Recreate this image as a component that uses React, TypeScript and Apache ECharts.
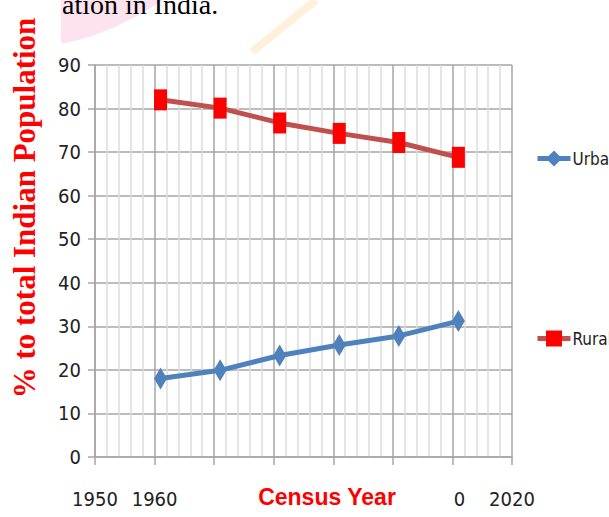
import React, { useEffect, useRef } from 'react';
import * as echarts from 'echarts';

const years = [1961, 1971, 1981, 1991, 2001, 2011];
const urban = [18.0, 19.9, 23.3, 25.7, 27.8, 31.2];
const rural = [82.0, 80.1, 76.7, 74.3, 72.2, 68.8];
const xTickLabels: Record<number, string> = { 1950: '1950', 1960: '1960', 2010: '{r|0}', 2020: '2020' };
const seriesNames = ['Urban', 'Rural'];
const yTitle = '% to total Indian Population';
const xTitle = 'Census Year';
const captionFragment = 'ation in India.';

const NARROW = '"Liberation Sans Narrow", "DejaVu Sans Condensed", "Liberation Sans", sans-serif';

export default function App() {
  const ref = useRef<HTMLDivElement>(null);
  useEffect(() => {
    document.body.style.margin = '0';
    if (!ref.current) return;
    const chart = echarts.init(ref.current, undefined, { renderer: 'svg' });
    const grey = '#a6a6a6';
    const legendCommon = {
      orient: 'vertical',
      left: 530,
      itemWidth: 33,
      itemHeight: 20,
      itemGap: 0,
      lineStyle: { width: 5 },
      textStyle: { fontSize: 17, fontFamily: NARROW, color: '#222', padding: [0, 0, 0, -3] },
    };
    chart.setOption({
      animation: false,
      backgroundColor: '#ffffff',
      grid: { left: 95, right: 97, top: 65, bottom: 60 },
      xAxis: {
        type: 'value',
        min: 1950,
        max: 2020,
        interval: 10,
        axisLine: { show: true, lineStyle: { color: grey, width: 1.5 } },
        axisTick: { show: true, length: 8, lineStyle: { color: grey, width: 1.5 } },
        axisLabel: {
          margin: 32,
          fontSize: 20,
          fontFamily: NARROW,
          color: '#222',
          formatter: (v: number) => xTickLabels[v] ?? '',
          rich: { r: { fontSize: 20, fontFamily: NARROW, color: '#222', padding: [0, 0, 0, 14] } },
        },
        splitLine: { show: true, lineStyle: { color: grey, width: 1.5 } },
        minorTick: { show: false, splitNumber: 5 },
        minorSplitLine: { show: true, lineStyle: { color: '#dcdcdc', width: 1.5 } },
      },
      yAxis: {
        type: 'value',
        min: 0,
        max: 90,
        interval: 10,
        axisLine: { show: true, lineStyle: { color: grey, width: 1.5 } },
        axisTick: { show: true, length: 7, lineStyle: { color: grey, width: 1.5 } },
        axisLabel: { margin: 14, fontSize: 20, fontFamily: NARROW, color: '#222' },
        splitLine: { show: true, lineStyle: { color: grey, width: 1.5 } },
      },
      legend: [
        { ...legendCommon, data: [seriesNames[0]], top: 145 },
        { ...legendCommon, data: [seriesNames[1]], top: 325 },
      ],
      series: [
        {
          name: seriesNames[0],
          type: 'line',
          data: years.map((y, i) => [y, urban[i]]),
          symbol: 'diamond',
          symbolSize: [13, 22],
          itemStyle: { color: '#4F81BD' },
          lineStyle: { color: '#4F81BD', width: 5 },
        },
        {
          name: seriesNames[1],
          type: 'line',
          data: years.map((y, i) => [y, rural[i]]),
          symbol: 'rect',
          symbolSize: [13, 21],
          itemStyle: { color: '#FF0000' },
          lineStyle: { color: '#C0504D', width: 5 },
        },
      ],
      graphic: [
        {
          type: 'polygon',
          z: -10,
          shape: {
            points: [
              [61, 0], [61, 44], [75, 41], [95, 35], [115, 27], [135, 17], [152, 7], [163, 0],
            ],
          },
          style: { fill: '#fde3ef' },
        },
        {
          type: 'line',
          z: -10,
          shape: { x1: 316, y1: 0, x2: 252, y2: 52 },
          style: { stroke: '#fef1dc', lineWidth: 8 },
        },
        {
          type: 'text',
          x: 62,
          y: 4,
          style: {
            text: captionFragment,
            font: '28px "Liberation Serif", "Times New Roman", serif',
            fill: '#000',
            verticalAlign: 'middle',
            align: 'left',
          },
        },
        {
          type: 'text',
          x: 24,
          y: 208,
          rotation: Math.PI / 2,
          style: {
            text: yTitle,
            font: 'bold 31px "Liberation Serif", "Times New Roman", serif',
            fill: '#ff0000',
            align: 'center',
            verticalAlign: 'middle',
          },
        },
        {
          type: 'text',
          x: 327,
          y: 497,
          style: {
            text: xTitle,
            font: 'bold 23px "Liberation Sans", Arial, sans-serif',
            fill: '#ff0000',
            align: 'center',
            verticalAlign: 'middle',
          },
        },
      ],
    });
    return () => chart.dispose();
  }, []);
  return <div ref={ref} style={{ width: 609, height: 517 }} />;
}
